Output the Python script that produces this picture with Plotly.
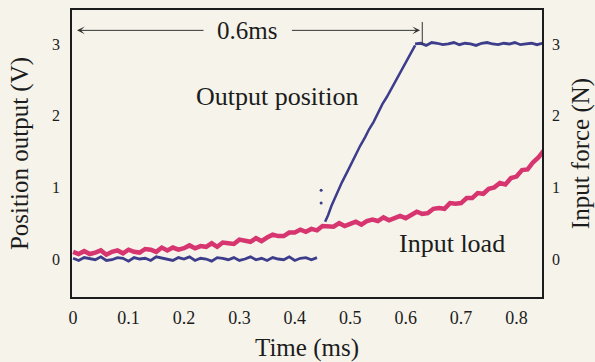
import plotly.graph_objects as go

# ---- data -------------------------------------------------------------
DT = 0.01  # sampling step of the recorded traces (ms)

# Output position, resting phase (V), sampled from t = 0
pos_rest_v = [0.01, -0.02, 0.02, 0.00, -0.01, 0.03, -0.02, -0.01, 0.02, 0.01,
              -0.03, 0.02, 0.00, 0.01, -0.02, 0.03, 0.01, -0.01, -0.02, 0.02,
              0.00, 0.03, -0.02, 0.01, 0.00, -0.03, 0.02, 0.01, -0.01, 0.02,
              -0.02, 0.00, 0.03, -0.01, 0.01, -0.02, 0.02, 0.00, -0.01, 0.03,
              -0.02, 0.01, 0.02, -0.01, 0.02]

# isolated samples during the transition
pos_dots_t = [0.4475, 0.4475]
pos_dots_v = [0.96, 0.78]

# Output position, rising edge
pos_ramp_t = [0.4547, 0.460, 0.466, 0.4727, 0.479, 0.485, 0.4962, 0.503, 0.510,
              0.518, 0.5269, 0.534, 0.542, 0.5504, 0.558, 0.566, 0.5757, 0.583,
              0.591, 0.5991, 0.605, 0.6117, 0.6171]
pos_ramp_v = [0.52, 0.61, 0.74, 0.86, 0.95, 1.07, 1.24, 1.35, 1.44,
              1.58, 1.70, 1.81, 1.91, 2.04, 2.16, 2.26, 2.40, 2.51,
              2.61, 2.73, 2.82, 2.91, 2.98]

# Output position, settled phase, sampled from t = 0.617
pos_top_t0 = 0.617
pos_top_v = [3.00, 3.01, 2.98, 3.02, 3.01, 2.99, 3.00, 3.02, 2.99, 3.01,
             3.00, 2.98, 3.01, 3.02, 3.00, 2.99, 3.01, 3.00, 3.02, 2.99,
             3.00, 3.01, 2.99, 3.01]

# Input load (N), sampled from t = 0
load_v = [0.10, 0.07, 0.11, 0.07, 0.09, 0.12, 0.06, 0.10, 0.12, 0.08,
          0.13, 0.10, 0.09, 0.14, 0.13, 0.10, 0.16, 0.12, 0.16, 0.13,
          0.15, 0.19, 0.15, 0.18, 0.17, 0.22, 0.17, 0.23, 0.22, 0.21,
          0.27, 0.26, 0.24, 0.29, 0.25, 0.30, 0.34, 0.32, 0.32, 0.37,
          0.37, 0.41, 0.38, 0.42, 0.40, 0.46, 0.46, 0.45, 0.50, 0.46,
          0.49, 0.52, 0.48, 0.53, 0.55, 0.53, 0.58, 0.54, 0.57, 0.60,
          0.57, 0.62, 0.66, 0.63, 0.64, 0.70, 0.71, 0.70, 0.78, 0.77,
          0.78, 0.85, 0.85, 0.92, 0.91, 0.98, 1.00, 1.06, 1.04, 1.13,
          1.15, 1.24, 1.25, 1.35, 1.42, 1.52]

x_ticks = [0, 0.1, 0.2, 0.3, 0.4, 0.5, 0.6, 0.7, 0.8]
x_ticktext = ["0", "0.1", "0.2", "0.3", "0.4", "0.5", "0.6", "0.7", "0.8"]
y_ticks = [0, 1, 2, 3]
y_ticktext = ["0", "1", "2", "3"]

# ---- style ------------------------------------------------------------
BG = "#f5f3ea"
INK = "#1c1c1c"
BLUE = "#3d3d8c"
PINK = "#d7356f"
SERIF = "Liberation Serif, Times New Roman, serif"

pos_rest_t = [round(i * DT, 4) for i in range(len(pos_rest_v))]
pos_top_t = [round(pos_top_t0 + i * DT, 4) for i in range(len(pos_top_v))]
load_t = [round(i * DT, 4) for i in range(len(load_v))]

fig = go.Figure()

fig.add_trace(go.Scatter(x=load_t, y=load_v, mode="lines", yaxis="y2",
                         line=dict(color=PINK, width=4.5), name="Input load"))
fig.add_trace(go.Scatter(x=pos_rest_t, y=pos_rest_v, mode="lines",
                         line=dict(color=BLUE, width=2.8), name="Output position"))
fig.add_trace(go.Scatter(x=pos_dots_t, y=pos_dots_v, mode="markers",
                         marker=dict(color=BLUE, size=3), showlegend=False))
fig.add_trace(go.Scatter(x=pos_ramp_t, y=pos_ramp_v, mode="lines",
                         line=dict(color=BLUE, width=2.5), showlegend=False))
fig.add_trace(go.Scatter(x=pos_top_t, y=pos_top_v, mode="lines",
                         line=dict(color=BLUE, width=2.8), showlegend=False))

X_RANGE = [-0.002, 0.846]
Y_RANGE = [-0.53, 3.474]

axis_common = dict(showgrid=False, zeroline=False, showline=True,
                   linecolor=INK, linewidth=1.5, ticks="outside",
                   tickcolor="rgba(0,0,0,0)", automargin=False)

fig.update_layout(
    width=595, height=362,
    margin=dict(l=72, r=53, t=10, b=65, autoexpand=False),
    paper_bgcolor=BG, plot_bgcolor=BG,
    showlegend=False,
    font=dict(family=SERIF, color=INK),
    xaxis=dict(range=X_RANGE, tickvals=x_ticks, ticktext=x_ticktext,
               mirror=True, ticklen=4, tickfont=dict(size=18, color=INK),
               title=dict(text="Time (ms)", font=dict(size=25, color=INK),
                          standoff=11),
               **axis_common),
    yaxis=dict(range=Y_RANGE, tickvals=y_ticks, ticktext=y_ticktext,
               ticklen=7, tickfont=dict(size=16, color=INK),
               title=dict(text="Position output (V)",
                          font=dict(size=25, color=INK), standoff=16),
               **axis_common),
    yaxis2=dict(range=Y_RANGE, tickvals=y_ticks, ticktext=y_ticktext,
                overlaying="y", side="right", ticklen=5,
                tickfont=dict(size=16, color=INK),
                title=dict(text="Input force (N)",
                           font=dict(size=25, color=INK), standoff=15),
                **axis_common),
)

# 0.6 ms span marker
ARROW_Y = 3.19
fig.add_annotation(x=0.007, y=ARROW_Y, ax=0.238, ay=ARROW_Y,
                   xref="x", yref="y", axref="x", ayref="y", text="",
                   showarrow=True, arrowhead=3, arrowsize=1.3,
                   arrowwidth=1, arrowcolor="#333")
fig.add_annotation(x=0.626, y=ARROW_Y, ax=0.392, ay=ARROW_Y,
                   xref="x", yref="y", axref="x", ayref="y", text="",
                   showarrow=True, arrowhead=3, arrowsize=1.3,
                   arrowwidth=1, arrowcolor="#333")
fig.add_shape(type="line", x0=0.630, x1=0.630, y0=2.986, y1=3.307,
              xref="x", yref="y", line=dict(color="#333", width=1))
fig.add_annotation(x=0.314, y=3.19, xref="x", yref="y", text="0.6ms",
                   showarrow=False, font=dict(size=25, color=INK))

fig.add_annotation(x=0.368, y=2.27, xref="x", yref="y", text="Output position",
                   showarrow=False, font=dict(size=26, color=INK))
fig.add_annotation(x=0.684, y=0.21, xref="x", yref="y", text="Input load",
                   showarrow=False, font=dict(size=26, color=INK))

fig.write_html("out.html")
